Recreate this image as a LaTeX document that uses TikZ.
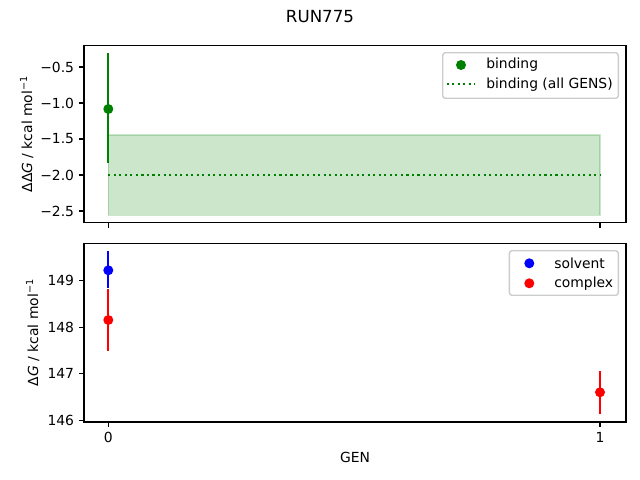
\documentclass[tikz,border=0pt]{standalone}
\usepackage{fontspec}
\setmainfont{DejaVu Sans}
\definecolor{mplgreen}{RGB}{0,128,0}
\definecolor{mplblue}{RGB}{0,0,255}
\definecolor{mplred}{RGB}{255,0,0}
\definecolor{legedge}{RGB}{204,204,204}
\begin{document}
\begin{tikzpicture}[x=0.72pt,y=-0.72pt,
  spine/.style={line width=0.8pt,black},
  tickmark/.style={line width=0.8pt,black},
  lab/.style={font=\fontsize{10}{12}\selectfont,inner sep=0pt},
  ylab/.style={lab,anchor=east},
  errbar/.style={line width=1.5pt},
  legbox/.style={draw=legedge,line width=1pt,fill=white,fill opacity=0.8,rounded corners=2pt},
  dotline/.style={line width=1.5pt,mplgreen,dash pattern=on 1.5pt off 2.475pt}]
\useasboundingbox (0,0) rectangle (640,480);
% title
\node[lab,font=\fontsize{12}{14}\selectfont] (title) at (320,16.7) {RUN775};
% ---------- top axes ----------
\fill[mplgreen,fill opacity=0.2] (108.3,135) rectangle (600,215.3);
\draw[mplgreen,draw opacity=0.2,line width=1pt] (108.3,135) rectangle (600,215.3);
\draw[dotline] (108.3,175) -- (600,175);
\draw[errbar,mplgreen] (108.3,53.3) -- (108.3,163.3);
\fill[mplgreen] (108.3,109) circle[radius=3.6pt];
\draw[spine] (84,45.3) rectangle (626,222.7);
\foreach \yy/\tl in {67/{−0.5},103/{−1.0},139/{−1.5},175/{−2.0},211/{−2.5}}{
  \draw[tickmark] (84,\yy) -- (79.1,\yy);
  \node[ylab] at (74.3,\yy) {\tl};
}
\draw[tickmark] (108.3,222.7) -- (108.3,227.6);
\draw[tickmark] (600,222.7) -- (600,227.6);
\node[lab,rotate=90] (ylabtop) at (26.7,134) {ΔΔ\textit{G} / kcal mol\textsuperscript{−1}};
% legend top
\draw[legbox] (442.7,52.7) rectangle (618.3,98.3);
\fill[mplgreen] (461,65) circle[radius=3.6pt];
\node[lab,anchor=west] (legbind) at (486,65) {binding};
\draw[dotline] (446.7,84.3) -- (475,84.3);
\node[lab,anchor=west] (legall) at (486,84.3) {binding (all GENS)};
% ---------- bottom axes ----------
\draw[errbar,mplblue] (108.3,251) -- (108.3,287.7);
\fill[mplblue] (108.3,270.3) circle[radius=3.6pt];
\draw[errbar,mplred] (108.3,289) -- (108.3,350.7);
\fill[mplred] (108.3,320) circle[radius=3.6pt];
\draw[errbar,mplred] (600,371) -- (600,413.7);
\fill[mplred] (600,392.3) circle[radius=3.6pt];
\draw[spine] (84,243.3) rectangle (626,422);
\foreach \yy/\tl in {280.7/149,327.2/148,373.8/147,420.3/146}{
  \draw[tickmark] (84,\yy) -- (79.1,\yy);
  \node[ylab] at (74.3,\yy) {\tl};
}
\draw[tickmark] (108.3,422) -- (108.3,426.9);
\draw[tickmark] (600,422) -- (600,426.9);
\node[lab] (xt0) at (108.3,437) {0};
\node[lab] (xt1) at (600,437) {1};
\node[lab] (xlab) at (355,457.7) {GEN};
\node[lab,rotate=90] (ylabbot) at (32.7,332.5) {Δ\textit{G} / kcal mol\textsuperscript{−1}};
% legend bottom
\draw[legbox] (509.3,250.7) rectangle (618.3,295.3);
\fill[mplblue] (529.3,263.3) circle[radius=3.6pt];
\node[lab,anchor=west] (legsolv) at (554,263.3) {solvent};
\fill[mplred] (529.3,283.3) circle[radius=3.6pt];
\node[lab,anchor=west] (legcomp) at (554,283.3) {complex};
\end{tikzpicture}
\end{document}
